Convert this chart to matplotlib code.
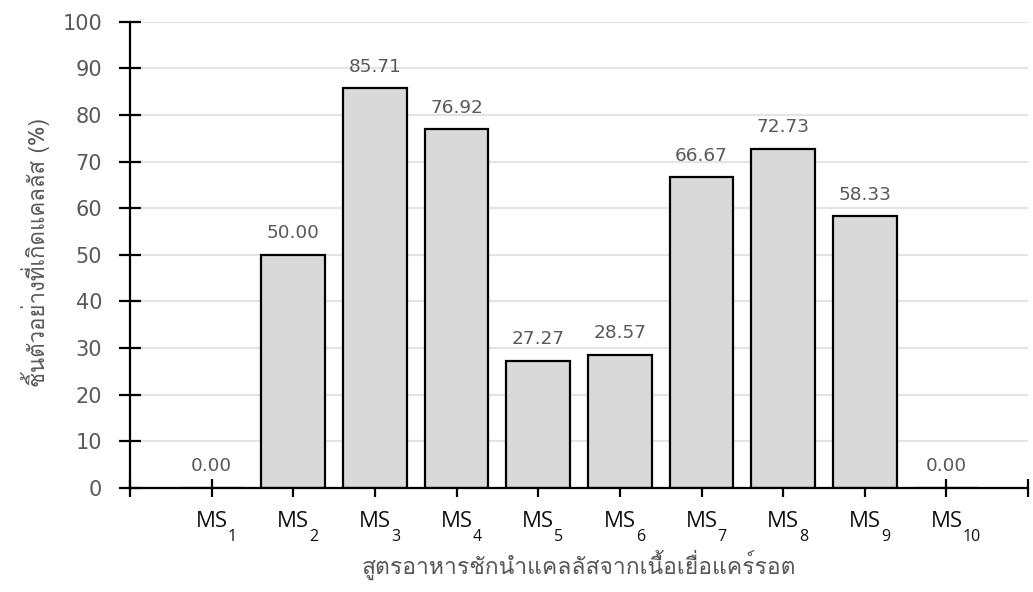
import matplotlib
matplotlib.use("Agg")
from matplotlib import pyplot as plt
from matplotlib import transforms
import numpy as np

# callus induction per medium (percent of explants)
media = ['1', '2', '3', '4', '5', '6', '7', '8', '9', '10']
callus_pct = [0.00, 50.00, 85.71, 76.92, 27.27, 28.57, 66.67, 72.73, 58.33, 0.00]
yticks = list(range(0, 101, 10))

xlabel = 'สูตรอาหารชักนำแคลลัสจากเนื้อเยื่อแคร์รอต'
ylabel = 'ชิ้นตัวอย่างที่เกิดแคลลัส (%)'

thai_font = ['Loma', 'Noto Sans Thai Looped', 'DejaVu Sans']
label_font = ['Open Sans', 'DejaVu Sans']
plt.rcParams['font.family'] = ['DejaVu Sans']


def plot_callus():
    fig = plt.figure(figsize=(10.33, 5.92), dpi=100)
    ax = fig.add_axes([0.1258, 0.176, 0.8695, 0.787])

    x = np.arange(len(media))
    bars = ax.bar(x, callus_pct, width=0.78, color='#d9d9d9',
                  edgecolor='black', linewidth=1.6, zorder=3)

    # value labels above each bar
    for b, v in zip(bars, callus_pct):
        ax.annotate('{0:.2f}'.format(v),
                    (b.get_x() + b.get_width() / 2, b.get_height()),
                    xytext=(0, 9), textcoords='offset points',
                    ha='center', va='bottom', fontsize=13.3, color='#595959')

    ax.set_xlim(-1, len(media))
    ax.set_ylim(0, 100)
    ax.set_yticks(yticks)
    ax.set_xticks(x)
    ax.set_xticks([-1, len(media)], minor=True)

    # "MS" as tick label, shifted left so the subscript fits after it
    ax.set_xticklabels(['MS'] * len(media), fontsize=16, color='#111111',
                       family=label_font)
    shift = transforms.ScaledTranslation(-5 / 100, 0, fig.dpi_scale_trans)
    for lbl in ax.get_xticklabels():
        lbl.set_transform(lbl.get_transform() + shift)
    for xi, m in zip(x, media):
        ax.annotate(m, (xi, 0), xycoords=ax.get_xaxis_transform(),
                    xytext=(16, -53), textcoords='offset pixels',
                    ha='left', va='baseline', fontsize=11.5, color='#111111',
                    family=label_font)

    ax.tick_params(axis='y', direction='inout', length=16, width=1.6,
                   labelsize=15, labelcolor='#595959', pad=12)
    ax.tick_params(axis='x', which='both', direction='inout', length=13,
                   width=1.6, pad=10)

    for s in ['top', 'right']:
        ax.spines[s].set_visible(False)
    for s in ['left', 'bottom']:
        ax.spines[s].set_linewidth(1.6)
        ax.spines[s].set_zorder(4)

    ax.yaxis.grid(True, color='#e4e4e4', linewidth=1.5, zorder=0)
    ax.set_axisbelow(True)

    ax.set_xlabel(xlabel, family=thai_font, fontsize=16.5, color='#595959')
    ax.xaxis.set_label_coords(0.5, -0.165)
    ax.xaxis.label.set_va('center')
    ax.set_ylabel(ylabel, family=thai_font, fontsize=16, color='#595959')
    ax.yaxis.set_label_coords(-0.105, 0.505)
    ax.yaxis.label.set_va('center')

    fig.savefig('out.png', dpi=100)


plot_callus()
